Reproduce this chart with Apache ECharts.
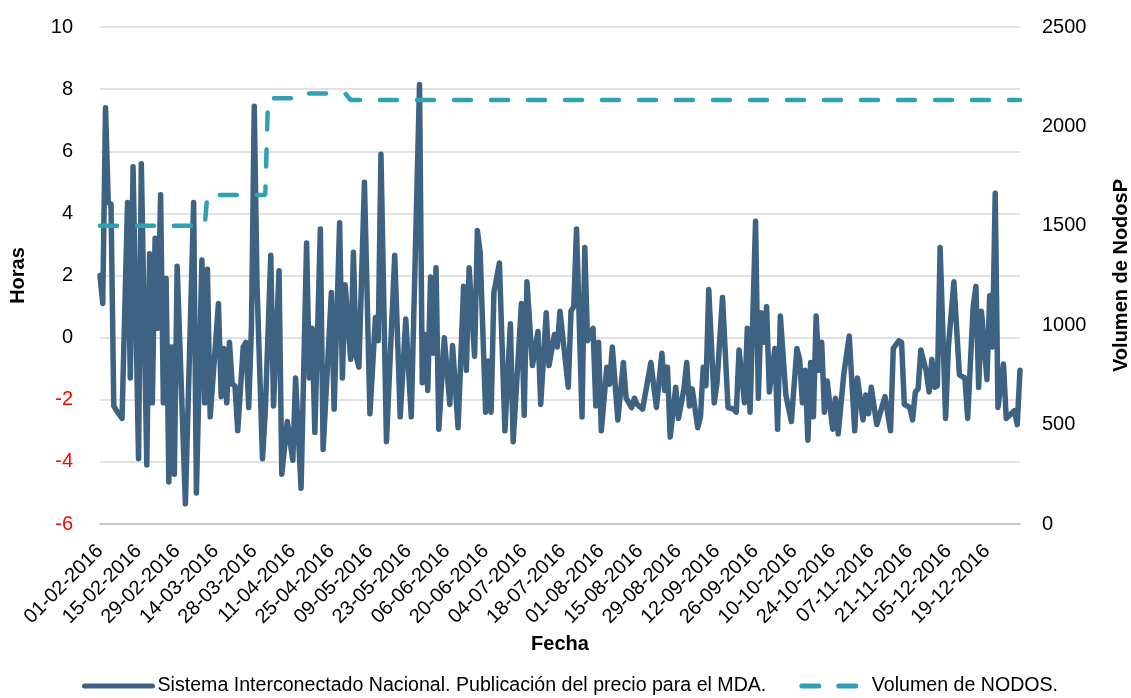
<!DOCTYPE html>
<html>
<head>
<meta charset="utf-8">
<script src="https://cdn.jsdelivr.net/npm/echarts@6/dist/echarts.min.js"></script>
<style>
  html, body { margin: 0; padding: 0; background: #fff; }
  #chart { width: 1131px; height: 698px; }
</style>
</head>
<body>
<div id="chart"></div>
<script>
  // dias contados desde el 01-02-2016
  var diasPrecio = [
    0,1,2,3,4,5,6,8,10,11,12,14,15,17,18,19,20,21,22,23,24,25,26,27,28,31,34,35,37,38,39,40,
    43,44,45,46,47,48,49,50,52,53,54,55,56,57,59,60,62,63,65,66,68,70,71,73,75,76,77,78,80,81,
    84,85,87,88,89,91,92,93,94,96,98,100,101,102,104,107,109,111,113,116,117,118,119,120,121,122,123,
    125,127,128,130,132,133,134,136,137,138,140,141,142,143,145,147,149,150,153,154,155,157,159,160,162,163,165,
    166,167,170,171,172,173,175,176,177,179,180,181,182,184,185,186,188,190,191,193,194,195,197,200,202,204,205,206,207,
    209,210,212,213,214,215,217,218,219,220,221,223,224,226,228,230,231,232,234,235,236,238,239,240,241,242,243,245,246,247,249,
    251,253,254,255,256,257,258,259,260,261,262,263,264,266,267,268,270,272,274,275,277,278,279,280,282,285,287,288,290,
    291,292,294,295,296,297,298,300,301,302,303,304,305,307,308,310,312,314,315,317,318,319,320,322,323,324,325,326,328,329,332,333,334
  ];
  var precio = [
    2.0,1.1,7.4,4.35,4.3,-2.2,-2.35,-2.6,4.35,-1.3,5.5,-3.9,5.6,-4.1,2.7,-2.1,3.2,0.3,4.6,-2.1,1.9,-4.65,-0.3,-4.4,2.3,-5.35,4.35,-5.0,2.5,-2.1,2.2,-2.55,
    1.1,-1.9,-0.35,-2.1,-0.15,-1.5,-1.55,-3.0,-0.3,-0.15,-2.25,0.4,7.45,1.7,-3.9,-2.4,2.65,-2.2,2.15,-4.4,-2.7,-3.95,-1.3,-4.85,3.05,-1.3,0.3,-3.05,3.5,-3.6,
    1.45,-2.3,3.7,-1.3,1.7,-0.7,2.75,-0.6,-0.95,5.0,-2.45,0.65,-0.1,5.9,-3.35,2.65,-2.55,0.6,-2.55,8.15,-1.45,0.1,-1.7,1.95,-0.5,2.25,-2.95,
    0.0,-2.15,-0.25,-2.9,1.65,-1.05,2.25,-0.6,3.45,2.75,-2.4,-0.75,-2.4,1.45,2.4,-3.0,0.45,-3.35,1.1,-2.5,1.8,-0.9,0.2,-2.15,0.8,-0.9,0.1,
    -0.3,0.85,-1.6,0.85,1.0,3.5,-2.55,2.9,-0.1,0.3,-2.2,-0.15,-3.0,-0.95,-1.5,-0.3,-2.65,-0.8,-1.95,-2.25,-1.95,-2.15,-2.3,-0.8,-2.25,-0.5,-1.7,-0.95,-3.2,
    -1.6,-2.6,-1.65,-0.8,-2.2,-1.65,-2.9,-2.55,-0.95,-1.55,1.55,-2.1,-1.45,1.3,-2.25,-2.3,-2.4,-0.4,-2.1,0.3,-2.4,3.75,-1.95,0.8,-0.15,1.0,-1.75,-0.35,-2.95,0.7,-1.85,
    -2.7,-0.35,-0.7,-2.1,-1.05,-3.3,-0.8,-2.55,0.7,-1.05,-0.15,-2.4,-1.4,-2.95,-1.95,-3.1,-1.2,0.05,-3.0,-1.3,-2.65,-1.85,-2.45,-1.6,-2.8,-1.9,-3.0,-0.35,-0.1,
    -0.15,-2.15,-2.25,-2.65,-1.75,-1.65,-0.4,-1.1,-1.75,-0.7,-1.6,-1.55,2.9,-2.6,-0.3,1.8,-1.2,-1.3,-2.6,1.0,1.65,-1.6,0.85,-1.35,1.35,-0.3,4.65,-2.25,-0.85,-2.6,-2.35,-2.8,-1.05
  ];

  var diasVolumen = [0, 38, 39, 60, 61, 72, 74, 89, 91, 334];
  var volumen = [1500, 1500, 1655, 1655, 2141, 2141, 2166, 2166, 2133, 2133];

  var etiquetasFecha = [
    '01-02-2016','15-02-2016','29-02-2016','14-03-2016','28-03-2016','11-04-2016',
    '25-04-2016','09-05-2016','23-05-2016','06-06-2016','20-06-2016','04-07-2016',
    '18-07-2016','01-08-2016','15-08-2016','29-08-2016','12-09-2016','26-09-2016',
    '10-10-2016','24-10-2016','07-11-2016','21-11-2016','05-12-2016','19-12-2016'
  ];

  var fuente = '"Liberation Sans", Arial, sans-serif';
  var azul = '#3e6382';
  var turquesa = '#2ea1b2';

  var chart = echarts.init(document.getElementById('chart'));
  chart.setOption({
    animation: false,
    textStyle: { fontFamily: fuente },
    grid: { left: 100, right: 111, top: 27, bottom: 174, containLabel: false, outerBoundsMode: 'none' },
    legend: {
      left: 82,
      top: 676,
      padding: 0,
      itemWidth: 68,
      itemHeight: 14,
      itemGap: 30,
      itemStyle: { opacity: 0 },
      textStyle: { fontFamily: fuente, fontSize: 19.6, color: '#000' },
      data: [
        { name: 'Sistema Interconectado Nacional. Publicación del precio para el MDA.', lineStyle: { width: 5, color: azul, cap: 'round' } },
        { name: 'Volumen de NODOS.', lineStyle: { width: 5, color: turquesa, type: [17, 20], cap: 'round', dashOffset: -3 } }
      ]
    },
    xAxis: {
      type: 'value',
      min: 0,
      max: 334,
      interval: 14,
      name: 'Fecha',
      nameLocation: 'middle',
      nameGap: 108,
      nameTextStyle: { fontFamily: fuente, fontSize: 20, fontWeight: 'bold', color: '#000' },
      axisLine: { onZero: false, lineStyle: { color: '#bfbfbf', width: 1.5 } },
      axisTick: { show: false },
      splitLine: { show: false },
      axisLabel: {
        rotate: 45,
        margin: 24,
        fontSize: 20,
        color: '#000',
        fontFamily: fuente,
        showMaxLabel: false,
        formatter: function (v) {
          if (v % 14 !== 0) return '';
          return etiquetasFecha[v / 14] || '';
        }
      }
    },
    yAxis: [
      {
        type: 'value',
        min: -6,
        max: 10,
        interval: 2,
        name: 'Horas',
        nameLocation: 'middle',
        nameRotate: 90,
        nameGap: 72,
        nameTextStyle: { fontFamily: fuente, fontSize: 20, fontWeight: 'bold', color: '#000' },
        axisLine: { show: false },
        axisTick: { show: false },
        splitLine: { lineStyle: { color: '#d9d9d9', width: 1.5 } },
        axisLabel: {
          margin: 27,
          fontSize: 20,
          fontFamily: fuente,
          formatter: function (v) { return String(v); },
          color: function (v) { return Number(v) < 0 ? '#ff0000' : '#000'; }
        }
      },
      {
        type: 'value',
        min: 0,
        max: 2500,
        interval: 500,
        name: 'Volumen de NodosP',
        nameLocation: 'middle',
        nameRotate: 90,
        nameGap: 91,
        nameTextStyle: { fontFamily: fuente, fontSize: 20, fontWeight: 'bold', color: '#000' },
        axisLine: { show: false },
        axisTick: { show: false },
        splitLine: { show: false },
        axisLabel: {
          margin: 22,
          fontSize: 20,
          fontFamily: fuente,
          color: '#000',
          formatter: function (v) { return String(v); }
        }
      }
    ],
    series: [
      {
        name: 'Sistema Interconectado Nacional. Publicación del precio para el MDA.',
        type: 'line',
        yAxisIndex: 0,
        showSymbol: false,
        symbol: 'none',
        lineStyle: { color: azul, width: 5.5, join: 'round', cap: 'round' },
        itemStyle: { color: azul },
        data: diasPrecio.map(function (d, i) { return [d, precio[i]]; })
      },
      {
        name: 'Volumen de NODOS.',
        type: 'line',
        yAxisIndex: 1,
        showSymbol: false,
        symbol: 'none',
        lineStyle: { color: turquesa, width: 4.5, type: [17, 20], cap: 'round' },
        itemStyle: { color: turquesa },
        data: diasVolumen.map(function (d, i) { return [d, volumen[i]]; })
      }
    ]
  });
</script>
</body>
</html>
